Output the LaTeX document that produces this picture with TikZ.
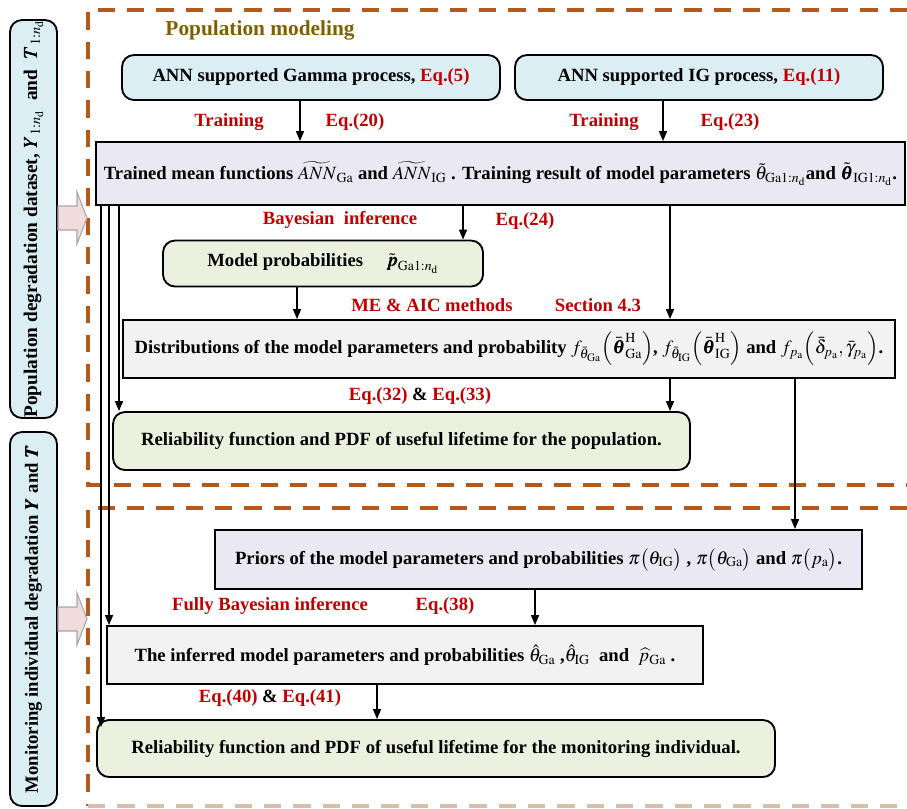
\documentclass[tikz,border=0pt]{standalone}
\usepackage{amsmath}
\usepackage{mathptmx}
\usepackage{bm}
\usepackage[no-math]{fontspec}
\setmainfont{Liberation Serif}
\usetikzlibrary{arrows.meta,calc}
\definecolor{eqred}{RGB}{192,0,0}
\definecolor{titlec}{RGB}{127,96,0}
\definecolor{framec}{RGB}{180,88,28}
\definecolor{framelt}{RGB}{215,190,170}
\definecolor{bluef}{RGB}{219,238,244}
\definecolor{greenf}{RGB}{235,241,222}
\definecolor{lavf}{RGB}{234,232,242}
\definecolor{grayf}{RGB}{242,242,242}
\definecolor{pinkf}{RGB}{242,220,219}
\begin{document}
\begin{tikzpicture}[x=0.75pt,y=-0.75pt,
  txt/.style={font=\fontsize{14}{17}\selectfont\bfseries},
  box/.style={txt, draw=black, line width=1.4pt, align=center, inner sep=0pt},
  rbox/.style={box, rounded corners=9pt},
  lbl/.style={txt, text=eqred, inner sep=1pt},
  arr/.style={-{Triangle[length=7.5pt,width=6pt]}, line width=1.1pt},
  frame/.style={draw=framec, line width=2.6pt, dash pattern=on 13pt off 9pt},
  blockarrow/.style={fill=pinkf, draw=black!35, line width=0.8pt}]
\useasboundingbox (0,0) rectangle (907,808);

% dashed frames
\draw[frame] (907,10) -- (88,10) -- (88,485) -- (907,485);
\draw[frame] (907,508) -- (88,508) -- (88,806);
\draw[frame, draw=framelt] (88,806) -- (907,806);

% left input boxes
\node[rbox, fill=bluef, rotate=90, minimum width=298.5pt, minimum height=35.25pt,
  font=\fontsize{14.5}{17}\selectfont\bfseries] (L1) at (33.5,219)
  {Population degradation dataset, $\bm{Y}_{1:n_{\mathrm{d}}}$ \ and \ $\bm{T}_{1:n_{\mathrm{d}}}$};
\node[rbox, fill=bluef, rotate=90, minimum width=280.5pt, minimum height=35.25pt] (L2) at (33.5,619)
  {Monitoring individual degradation $\bm{Y}$ and $\bm{T}$};

% block arrows
\draw[blockarrow] (58,206) -- (77,206) -- (77,192) -- (87,218) -- (77,244) -- (77,230) -- (58,230) -- cycle;
\draw[blockarrow] (58,607) -- (77,607) -- (77,593) -- (87,619) -- (77,645) -- (77,631) -- (58,631) -- cycle;

% title
\node[txt, font=\fontsize{16}{19}\selectfont\bfseries, text=titlec] (title) at (260,30) {Population modeling};

% boxes
\node[rbox, fill=bluef, minimum width=283.5pt, minimum height=33.75pt] (A) at (311,77.5)
  {ANN supported Gamma process, \textcolor{eqred}{Eq.(5)}};
\node[rbox, fill=bluef, minimum width=276pt, minimum height=33.75pt] (B) at (699,77.5)
  {ANN supported IG process, \textcolor{eqred}{Eq.(11)}};
\node[box, fill=lavf, minimum width=606.75pt, minimum height=47.25pt] (T) at (500.5,173.5)
  {Trained mean functions $\widetilde{ANN}_{\mathrm{Ga}}$ and $\widetilde{ANN}_{\mathrm{IG}}$ . Training result of model parameters $\tilde{\theta}_{\mathrm{Ga}1:n_{\mathrm{d}}}$and $\tilde{\bm{\theta}}_{\mathrm{IG}1:n_{\mathrm{d}}}$.};
\node[rbox, fill=greenf, minimum width=240pt, minimum height=34.5pt] (M) at (323,263.5)
  {Model probabilities \quad $\tilde{\bm{p}}_{\mathrm{Ga}1:n_{\mathrm{d}}}$};
\node[box, fill=grayf, minimum width=579pt, minimum height=43.5pt] (D) at (509,349)
  {Distributions of the model parameters and probability $f_{\bar{\theta}_{\mathrm{Ga}}}\Bigl(\bar{\bm{\theta}}^{\mathrm{H}}_{\mathrm{Ga}}\Bigr)$, $f_{\bar{\theta}_{\mathrm{IG}}}\Bigl(\bar{\bm{\theta}}^{\mathrm{H}}_{\mathrm{IG}}\Bigr)$ and $f_{p_{\mathrm{a}}}\Bigl(\bar{\delta}_{p_{\mathrm{a}}},\bar{\gamma}_{p_{\mathrm{a}}}\Bigr)$.};
\node[rbox, fill=greenf, minimum width=432.75pt, minimum height=43.5pt] (PR) at (401.5,441)
  {Reliability function and PDF of useful lifetime for the population.};
\node[box, fill=lavf, minimum width=485.25pt, minimum height=44.25pt] (P) at (538.5,559.5)
  {Priors of the model parameters and probabilities $\pi\bigl(\theta_{\mathrm{IG}}\bigr)$ , $\pi\bigl(\theta_{\mathrm{Ga}}\bigr)$ and $\pi\bigl(p_{\mathrm{a}}\bigr)$.};
\node[box, fill=grayf, minimum width=447pt, minimum height=43.5pt] (I) at (405,655)
  {The inferred model parameters and probabilities $\hat{\theta}_{\mathrm{Ga}}$ ,$\hat{\theta}_{\mathrm{IG}}$ \ and \ $\widehat{p}_{\mathrm{Ga}}$ .};
\node[rbox, fill=greenf, minimum width=508.5pt, minimum height=42.75pt] (F) at (436,748.5)
  {Reliability function and PDF of useful lifetime for the monitoring individual.};

% labels
\node[lbl] (l1) at (229,122) {Training};
\node[lbl] (l2) at (355,122) {Eq.(20)};
\node[lbl] (l3) at (604,122) {Training};
\node[lbl] (l4) at (730,122) {Eq.(23)};
\node[lbl] (l5) at (340,220) {Bayesian\ \ inference};
\node[lbl] (l6) at (525,221) {Eq.(24)};
\node[lbl] (l7) at (432,305) {ME \& AIC methods};
\node[lbl] (l8) at (598,305) {Section 4.3};
\node[lbl] (l9) at (420,396) {Eq.(32) \textcolor{black}{\&} Eq.(33)};
\node[lbl] (l10) at (270,606) {Fully Bayesian inference};
\node[lbl] (l11) at (445,606) {Eq.(38)};
\node[lbl] (l12) at (270,698) {Eq.(40) \textcolor{black}{\&} Eq.(41)};

% connectors
\draw[arr] (A.south -| 300,0) -- (T.north -| 300,0);
\draw[arr] (B.south -| 663,0) -- (T.north -| 663,0);
\draw[arr] (T.south -| 463,0) -- (M.north -| 463,0);
\draw[arr] (T.south -| 670,0) -- (D.north -| 670,0);
\draw[arr] (M.south -| 297,0) -- (D.north -| 297,0);
\draw[arr] (D.south -| 670,0) -- (PR.north -| 670,0);
\draw[arr] (D.south -| 795,0) -- (P.north -| 795,0);
\draw[arr] (P.south -| 535,0) -- (I.north -| 535,0);
\draw[arr] (I.south -| 377,0) -- (F.north -| 377,0);
\draw[arr] (T.south -| 119,0) -- (PR.north -| 119,0);
\draw[arr] (T.south -| 109,0) -- (I.north -| 109,0);
\draw[arr] (T.south -| 101,0) -- ([yshift=-6]F.north -| 101,0);
\end{tikzpicture}
\end{document}
